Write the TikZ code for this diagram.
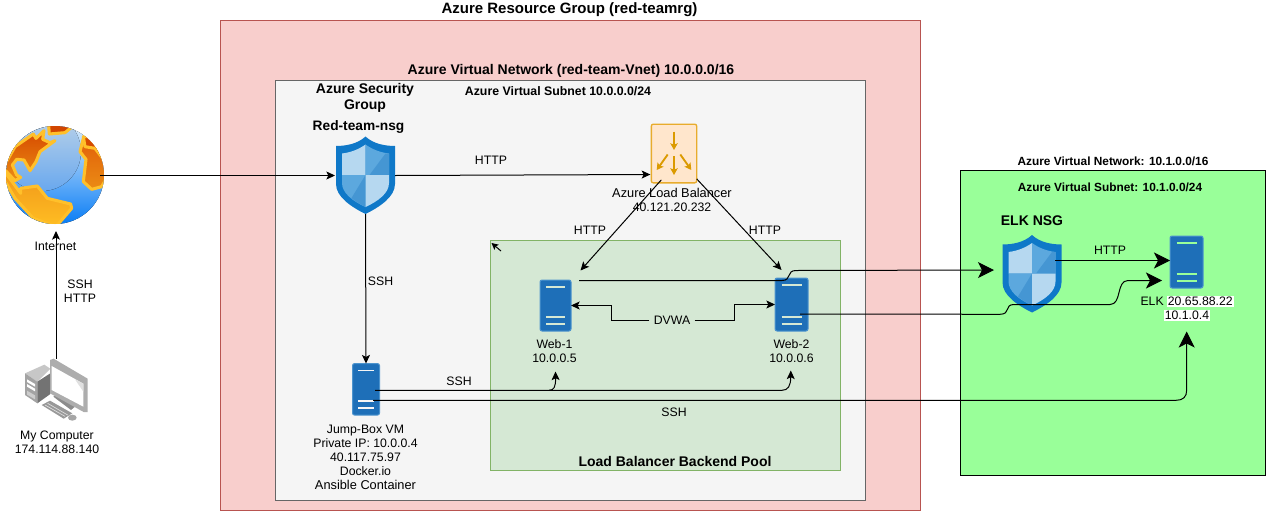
\documentclass[tikz,border=0pt]{standalone}
\usepackage{fontspec}
\setmainfont{Liberation Sans}
\usetikzlibrary{arrows.meta,calc}
\definecolor{redfill}{HTML}{F8CECC}\definecolor{redline}{HTML}{B85450}
\definecolor{grayfill}{HTML}{F5F5F5}\definecolor{grayline}{HTML}{666666}
\definecolor{poolfill}{HTML}{D5E8D4}\definecolor{poolline}{HTML}{82B366}
\definecolor{elkfill}{HTML}{99FF99}
\definecolor{srv}{HTML}{1E6FB8}\definecolor{srvline}{HTML}{4D94CE}
\definecolor{lbfill}{HTML}{FFE6CC}\definecolor{lbline}{HTML}{E8AC2C}\definecolor{lbarrow}{HTML}{DB9A00}
\definecolor{shout}{HTML}{0F78C8}\definecolor{shlight}{HTML}{B6D8F0}\definecolor{shmid}{HTML}{5CA8DE}\definecolor{shmid2}{HTML}{4596D3}
\definecolor{gold}{HTML}{FFC02A}
\tikzset{
  x=0.75pt,y=-0.75pt,
  group/.style={draw,inner sep=0pt,outer sep=0pt,anchor=north west},
  icon/.style={inner sep=0pt,outer sep=0pt,draw=none},
  server/.style={icon,fill=srv,draw=srvline,rounded corners=1.5pt},
  lbl/.style={inner sep=0pt,align=center,text=black,font=\fontsize{9.2}{10.5}\selectfont},
  ttl/.style={lbl,font=\fontsize{10.5}{12}\selectfont\bfseries},
  small/.style={lbl,font=\fontsize{8.9}{10.5}\selectfont\bfseries},
  conn/.style={draw=black,-{Stealth[length=6.5pt,width=6pt,inset=1.5pt]}},
  big/.style={draw=black,-{Stealth[length=12pt,width=12pt,inset=3pt]}},
  pics/azshield/.style={code={
    \fill[shout] (0,-38.5) .. controls (-8,-31) and (-20,-29) .. (-29.5,-29) -- (-29.5,9) .. controls (-29.5,22) and (-14,32) .. (0,39) .. controls (14,32) and (29.5,22) .. (29.5,9) -- (29.5,-29) .. controls (20,-29) and (8,-31) .. (0,-38.5) -- cycle;
    \fill[shlight] (0,-30.5) .. controls (-7,-25.5) and (-15,-22.5) .. (-23.5,-21.5) -- (-23.5,0) -- (0,0) -- cycle;
    \fill[shmid] (0,-30.5) .. controls (7,-25.5) and (15,-22.5) .. (23.5,-21.5) -- (23.5,0) -- (0,0) -- cycle;
    \fill[shmid2] (23.5,-21.5) -- (23.5,0) -- (4,0) -- (20,-21.5) -- cycle;
    \fill[shmid] (-23.5,0) -- (0,0) -- (0,32) .. controls (-13,26) and (-23.5,18) .. (-23.5,8) -- cycle;
    \fill[shmid2] (0,0) -- (0,32) .. controls (-5,29.5) and (-10,26.5) .. (-14,23) -- cycle;
    \fill[shlight] (23.5,0) -- (0,0) -- (0,32) .. controls (13,26) and (23.5,18) .. (23.5,8) -- cycle;
  }},
  pics/lbarrows/.style={code={
    \begin{scope}[draw=lbarrow,line width=1.4pt,-{Stealth[length=5pt,width=5.5pt,inset=1pt]}]
      \draw (0,-22) -- (0,-3.5);
      \draw (0,2.5) -- (0,21.5);
      \draw (-6.3,1) -- (-17.3,16.5);
      \draw (6.3,1) -- (17.3,16.5);
    \end{scope}
  }},
}
\newcommand{\srvbars}[3]{%
  \draw[#2,line width=1.2pt] ($(#1.north)+(-#3,7)$) -- ($(#1.north)+(#3,7)$);
  \draw[#2,line width=1.2pt] ($(#1.south)+(-#3,-14)$) -- ($(#1.south)+(#3,-14)$);
  \draw[#2,line width=1.2pt] ($(#1.south)+(-#3,-7)$) -- ($(#1.south)+(#3,-7)$);}
\begin{document}
\begin{tikzpicture}[line width=0.75pt]
\useasboundingbox (0,0) rectangle (1274,511);
% ---- group boxes
\node[group,fill=redfill,draw=redline,minimum width=525pt,minimum height=367.5pt] (rg) at (220.5,20.5) {};
\node[group,fill=grayfill,draw=grayline,minimum width=442.5pt,minimum height=315pt] (subnet) at (275.5,80.5) {};
\node[group,fill=poolfill,draw=poolline,minimum width=262.5pt,minimum height=172.5pt] (pool) at (490.5,240.5) {};
\node[group,fill=elkfill,draw=black,minimum width=228.4pt,minimum height=228.4pt] (elknet) at (960.5,170.5) {};
% ---- icon holders
\node[icon,minimum width=73.5pt,minimum height=73.5pt] (internet) at (55,175) {};
\node[icon,minimum width=48pt,minimum height=46.5pt] (pc) at (56,389.5) {};
\node[icon,minimum width=44.25pt,minimum height=58.5pt] (nsg) at (365.5,175) {};
\node[icon,minimum width=45pt,minimum height=59.25pt] (elknsg) at (1032,273.5) {};
\node[draw=lbline,fill=lbfill,line width=1pt,rounded corners=1.5pt,inner sep=0pt,outer sep=0pt,minimum width=34pt,minimum height=44pt] (lb) at (674,153.5) {};
\node[server,minimum width=23.25pt,minimum height=38.25pt] (web1) at (555.5,305.5) {};
\node[server,minimum width=24.75pt,minimum height=39.75pt] (web2) at (791.5,304.5) {};
\node[server,minimum width=20.25pt,minimum height=38.6pt] (jump) at (366,389.3) {};
\node[server,minimum width=24.75pt,minimum height=39pt] (elk) at (1186.5,262) {};
\srvbars{web1}{poolfill}{9.5}
\srvbars{web2}{poolfill}{10}
\srvbars{jump}{grayfill}{8}
\srvbars{elk}{elkfill}{10}
\pic at (nsg.center) {azshield};
\pic at (elknsg.center) {azshield};
\pic at (lb.center) {lbarrows};
% ---- globe, drawn in zoomed coordinates
\begin{scope}[shift={(0,120)},x=0.25pt,y=-0.25pt]
  \begin{scope}
    \clip (165,165) circle (147);
    \fill[top color={rgb,255:red,215;green,235;blue,252},bottom color={rgb,255:red,10;green,125;blue,245}] (18,18) rectangle (312,312);
    \fill[top color={rgb,255:red,190;green,212;blue,232},bottom color={rgb,255:red,105;green,168;blue,238}] (125,95) circle (118);
    \begin{scope}[draw=gold,line width=2.3pt,line join=round]
      \draw[top color={rgb,255:red,214;green,74;blue,0},bottom color={rgb,255:red,235;green,140;blue,20}]
        (5,150) -- (45,80) -- (100,42) -- (108,55) -- (132,32) -- (128,58) -- (150,68) -- (165,62) -- (120,95) -- (108,125) -- (90,152) -- (72,120) -- (50,118) -- (37,135) -- (50,165) -- (62,172) -- (45,182) -- (15,150) -- cycle;
      \draw[fill={rgb,255:red,210;green,70;blue,0}] (145,5) -- (148,42) -- (195,38) -- (235,5) -- cycle;
      \draw[top color={rgb,255:red,225;green,95;blue,10},bottom color={rgb,255:red,235;green,140;blue,20}]
        (250,55) -- (240,95) -- (258,118) -- (250,185) -- (275,208) -- (305,200) -- (325,165) -- (300,90) -- cycle;
      \draw[fill={rgb,255:red,214;green,74;blue,0}] (250,50) -- (255,80) -- (285,85) -- (320,130) -- (320,50) -- cycle;
      \draw[top color={rgb,255:red,240;green,150;blue,25},bottom color={rgb,255:red,255;green,190;blue,35}]
        (10,150) -- (40,190) -- (62,220) -- (62,205) -- (112,198) -- (142,235) -- (212,252) -- (215,265) -- (168,320) -- (100,295) -- (45,235) -- (10,175) -- cycle;
    \end{scope}
  \end{scope}
\end{scope}
% ---- computer, drawn in zoomed coordinates
\begin{scope}[shift={(15,350)},x=0.25pt,y=-0.25pt]
  \fill[black!22] (30,70) -- (88,44) -- (106,56) -- (67,95) -- cycle;
  \fill[black!36] (30,70) -- (67,95) -- (67,160) -- (30,135) -- cycle;
  \fill[black!55] (67,95) -- (106,70) -- (106,132) -- (67,160) -- cycle;
  \fill[white] (36,88) -- (60,102) -- (60,110) -- (36,96) -- cycle;
  \fill[white] (36,102) -- (60,116) -- (60,124) -- (36,110) -- cycle;
  \fill[black!20] (36,122) -- (60,136) -- (60,148) -- (36,134) -- cycle;
  \fill[black!45] (115,140) -- (125,134) -- (180,170) -- (168,180) -- cycle;
  \fill[black!32] (105,30) -- (116,26) -- (218,86) -- (218,186) -- (206,186) -- (105,130) -- cycle;
  \fill[white] (110,48) -- (205,101) -- (205,170) -- (110,120) -- cycle;
  \fill[black!12] (180,88) -- (205,101) -- (205,125) -- cycle;
  \fill[black!40] (80,165) -- (105,152) -- (172,190) -- (146,206) -- cycle;
  \draw[black!12,line width=0.5pt] (90,165) -- (150,199) (98,160) -- (158,195);
  \fill[black!35] (172,203) ellipse (13 and 9);
\end{scope}
% ---- connectors
\draw[conn] ($(internet.east)+(-4,0.5)$) -- ($(nsg.west)+(-1,0.5)$);
\draw[conn] (pc.north) -- ($(internet.south)+(1,7)$);
\draw[conn] ($(nsg.east)+(0,0.5)$) -- ($(lb.west)+(-1,21)$);
\draw[conn] (nsg.south) -- (jump.north);
\draw[conn] ($(lb.south west)+(10,-3)$) -- ($(web1.north)+(25,-9.5)$);
\draw[conn] ($(lb.south east)+(0,-4)$) -- ($(web2.north)+(-10,-8)$);
\coordinate (stray) at (501,251);
\draw[draw=black,-{Stealth[length=5pt,width=5pt,inset=1pt]}] (stray) -- ($(pool.north west)+(1,2.5)$);
\node[lbl,fill=poolfill,inner xsep=3pt,inner ysep=1pt] (dvwa) at (672,320.5) {DVWA};
\draw[conn] (dvwa.west) -- (611.5,320.5) -- (611.5,305.5) -- (web1.east);
\draw[conn] (dvwa.east) -- (734,320.5) -- (734,304.5) -- (web2.west);
\draw[conn] ($(jump.east)+(-4.5,1)$) -- (549,390.3) .. controls (554,390.3) and (555.7,387) .. ($(web1.south)+(0,40.5)$);
\draw[conn] (549,390.3) -- (782,390.3) .. controls (788,390.3) and (790.7,386) .. ($(web2.south)+(-0.7,39.5)$);
\draw[big] ($(jump.east)+(-6.5,11)$) -- (1176,400.3) .. controls (1183,400.3) and (1186.7,397) .. (1186.7,390) -- ($(elk.south)+(0.2,43.5)$);
\draw[big] ($(web1.east)+(8,-25)$) -- (782,280.5) .. controls (792,280.5) and (786,270.5) .. (796,270.5) -- ($(elknsg.west)+(-8,-3.5)$);
\draw[big] ($(web2.east)+(-8,9.5)$) -- (1000,314.3) .. controls (1011,314.3) and (1004,304.5) .. (1014,304.5) -- (1110,304.5) .. controls (1122,304.5) and (1116,280.5) .. (1128,280.5) -- ($(elk.west)+(-8,18.5)$);
\draw[big] ($(elknsg.east)+(-7,-13)$) -- ($(elk.west)+(0,-1.5)$);
% ---- labels
\node[ttl,font=\fontsize{11.25}{12}\selectfont\bfseries] (t1) at (569.5,10) {Azure Resource Group (red-teamrg)};
\node[ttl] (t2) at (571,71) {Azure Virtual Network (red-team-Vnet) 10.0.0.0/16};
\node[ttl] (t3) at (365,97.5) {Azure Security\\Group};
\node[ttl,font=\fontsize{10.3}{12}\selectfont\bfseries] (t4) at (358.5,127) {Red-team-nsg};
\node[ttl,font=\fontsize{9.25}{12}\selectfont\bfseries] (t5) at (558,91) {Azure Virtual Subnet 10.0.0.0/24};
\node[lbl] (l1) at (491,160) {HTTP};
\node[lbl] (l2) at (672,200) {\fontsize{9.6}{10.5}\selectfont Azure Load Balancer\\\fontsize{9.2}{10.5}\selectfont 40.121.20.232};
\node[lbl] (l3) at (590,230.5) {HTTP};
\node[lbl] (l4) at (765,230.5) {HTTP};
\node[lbl] (l5) at (554.5,351) {Web-1\\10.0.0.5};
\node[lbl] (l6) at (791.5,351) {Web-2\\10.0.0.6};
\node[lbl] (l7) at (459,381) {SSH};
\node[lbl] (l8) at (674,412) {SSH};
\node[lbl] (l9) at (380.5,281) {SSH};
\node[lbl] (l10) at (80,291) {SSH\\HTTP};
\node[lbl] (l11) at (55.5,246.5) {Internet};
\node[lbl] (l12) at (57,442) {My Computer\\174.114.88.140};
\node[lbl] (l13) at (365.5,457) {Jump-Box VM\\Private IP: 10.0.0.4\\40.117.75.97\\Docker.io\\\fontsize{9.6}{10.5}\selectfont Ansible Container};
\node[ttl] (t6) at (675,461) {Load Balancer Backend Pool};
\node[small] (t7) at (1113,161) {Azure Virtual Network: 10.1.0.0/16};
\node[small] (t8) at (1110,187) {Azure Virtual Subnet: 10.1.0.0/24};
\node[ttl] (t9) at (1032,221) {ELK NSG};
\node[lbl] (l14) at (1110,250) {HTTP};
\setlength{\fboxsep}{0.6pt}
\node[lbl] (l15) at (1187,308.5) {ELK \colorbox{white}{20.65.88.22}\\\colorbox{white}{10.1.0.4}};
\end{tikzpicture}
\end{document}
